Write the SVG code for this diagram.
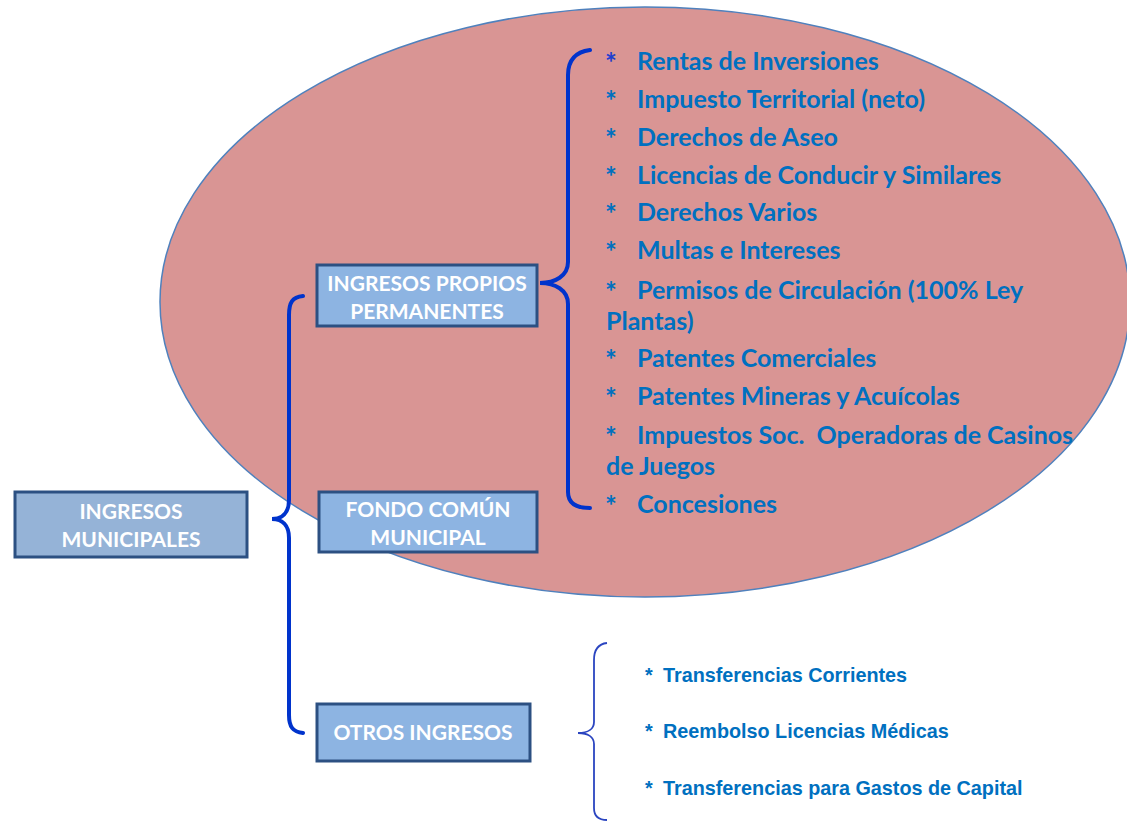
<svg xmlns="http://www.w3.org/2000/svg" width="1127" height="822" viewBox="0 0 1127 822">
<style>
.box{fill:#8DB4E2;stroke:#2C5082;stroke-width:3}
.bt{font-family:Lato,"Open Sans",sans-serif;font-weight:bold;font-size:21px;fill:#FFFFFF;text-anchor:middle}
.it{font-family:Lato,"Open Sans",sans-serif;font-weight:bold;font-size:25px;fill:#0070C0;white-space:pre}
.ast{font-size:28px}
.st{font-family:"Liberation Sans",Arial,sans-serif;font-weight:bold;font-size:19.8px;fill:#0070C0}
.br{fill:none;stroke:#0033CC;stroke-width:4;stroke-linecap:round}
.brt{fill:none;stroke:#2B45C0;stroke-width:1.8}
</style>
<rect width="1127" height="822" fill="#FFFFFF"/>
<ellipse id="oval" cx="645" cy="302" rx="485" ry="295" fill="#D99594" stroke="#4F81BD" stroke-width="1.5"/>
<g id="connectors">
<path class="br" d="M303,296 C292,297 289,303 289,315 L289,500 C289,513 282,519 272,519 C282,519 289,525 289,538 L289,715 C289,727 293,732 303,733"/>
<path class="br" d="M590,50 C575,52 568,60 568,75 L568,262 C568,276 555,283 540,283 C555,283 568,290 568,304 L568,492 C568,502 575,508 590,508"/>
<path class="brt" d="M607,643 C598,644 594,650 594,660 L594,722 C594,729 588,733 578,733 C588,733 594,737 594,744 L594,808 C594,816 598,820 607,820"/>
</g>
<g id="n-municipales">
<rect class="box" x="15" y="492" width="232" height="65" style="fill:#95B3D7"/>
<text class="bt" x="131" y="519">INGRESOS</text>
<text class="bt" x="131" y="547">MUNICIPALES</text>
</g>
<g id="n-propios">
<rect class="box" x="317" y="265" width="220" height="61"/>
<text class="bt" x="427" y="291">INGRESOS PROPIOS</text>
<text class="bt" x="427" y="319">PERMANENTES</text>
</g>
<g id="n-fondo">
<rect class="box" x="319" y="492" width="218" height="60"/>
<text class="bt" x="428" y="517">FONDO COMÚN</text>
<text class="bt" x="428" y="545">MUNICIPAL</text>
</g>
<g id="n-otros">
<rect class="box" x="317" y="704" width="213" height="57"/>
<text class="bt" x="423" y="740">OTROS INGRESOS</text>
</g>
<g id="list-propios">
<text class="it" x="605" y="73"><tspan class="ast" fill="#1F3FCF">*</tspan><tspan x="637" y="70">Rentas de Inversiones</tspan></text>
<text class="it" x="605" y="111"><tspan class="ast">*</tspan><tspan x="637" y="108">Impuesto Territorial (neto)</tspan></text>
<text class="it" x="605" y="149"><tspan class="ast">*</tspan><tspan x="637" y="146">Derechos de Aseo</tspan></text>
<text class="it" x="605" y="187"><tspan class="ast">*</tspan><tspan x="637" y="184">Licencias de Conducir y Similares</tspan></text>
<text class="it" x="605" y="224"><tspan class="ast">*</tspan><tspan x="637" y="221">Derechos Varios</tspan></text>
<text class="it" x="605" y="262"><tspan class="ast">*</tspan><tspan x="637" y="259">Multas e Intereses</tspan></text>
<text class="it" x="605" y="302"><tspan class="ast">*</tspan><tspan x="637" y="299">Permisos de Circulación (100% Ley</tspan></text>
<text class="it" x="606" y="330">Plantas)</text>
<text class="it" x="605" y="370"><tspan class="ast">*</tspan><tspan x="637" y="367">Patentes Comerciales</tspan></text>
<text class="it" x="605" y="408"><tspan class="ast">*</tspan><tspan x="637" y="405">Patentes Mineras y Acuícolas</tspan></text>
<text class="it" x="605" y="447"><tspan class="ast">*</tspan><tspan x="637" y="444">Impuestos Soc.  Operadoras de Casinos</tspan></text>
<text class="it" x="606" y="475">de Juegos</text>
<text class="it" x="605" y="516"><tspan class="ast">*</tspan><tspan x="637" y="513">Concesiones</tspan></text>
</g>
<g id="list-otros">
<text class="st" x="645" y="682">*<tspan x="663">Transferencias Corrientes</tspan></text>
<text class="st" x="645" y="738">*<tspan x="663">Reembolso Licencias Médicas</tspan></text>
<text class="st" x="645" y="795">*<tspan x="663">Transferencias para Gastos de Capital</tspan></text>
</g>
</svg>
